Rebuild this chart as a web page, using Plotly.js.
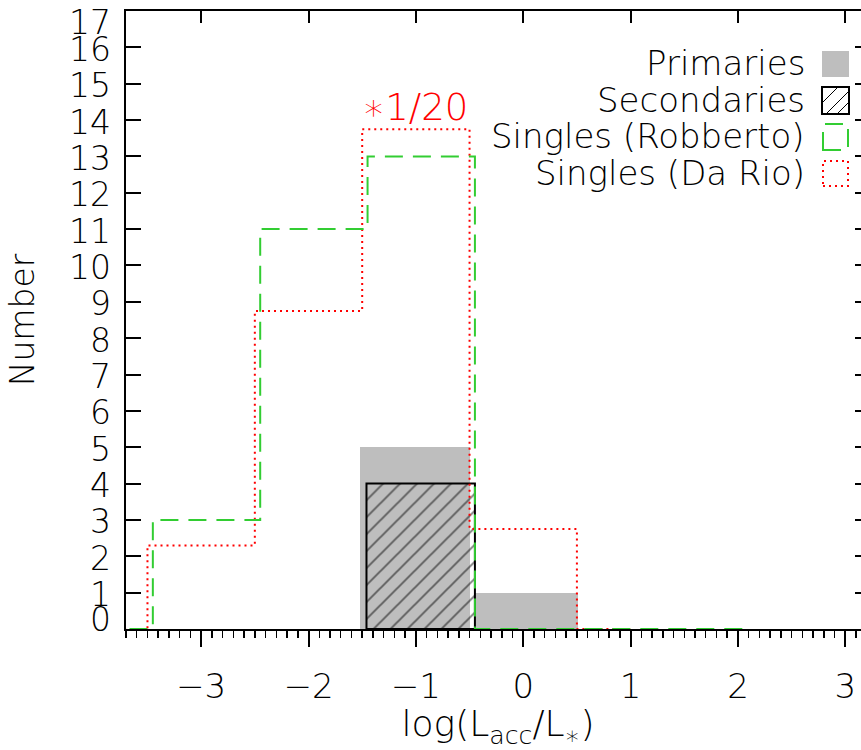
<!DOCTYPE html>
<html>
<head>
<meta charset="utf-8">
<script src="https://cdn.plot.ly/plotly-3.0.1.min.js"></script>
<style>
html, body { margin: 0; padding: 0; overflow: hidden; background: #fff; }
#chart { width: 880px; height: 750px; }
</style>
</head>
<body>
<div id="chart"></div>
<script>
// ---- data ----
const primLo = [-1.52, -0.45];
const primHi = [-0.50, 0.51];
const primN  = [5, 1];

const secLo = [-1.46];
const secHi = [-0.45];
const secN  = [4];

const robEdges  = [-4.45, -3.45, -2.45, -1.45, -0.45, 0.55, 1.55, 2.05];
const robCounts = [0, 3, 11, 13, 0, 0, 0];

const darioEdges  = [-4.5, -3.5, -2.5, -1.5, -0.5, 0.5, 1.0];
const darioCounts = [0, 2.3, 8.75, 13.75, 2.75, 0];   // already multiplied by 1/20

const yTickVals = [0,1,2,3,4,5,6,7,8,9,10,11,12,13,14,15,16,17];
const yTickText = yTickVals.map(String);
const xTickVals = [-3,-2,-1,0,1,2,3];

const legendNames = ["Primaries", "Secondaries", "Singles (Robberto)", "Singles (Da Rio)"];
const scaleNote = "\u22171/20";

// ---- helpers ----
const FONT = "DejaVu Sans, Liberation Sans, sans-serif";
const WT = 200;
const FS = 33;
const GREEN = "rgb(50,205,50)";
const RED = "rgb(255,0,0)";
const GRAY = "rgb(190,190,190)";

function centers(lo, hi) { return lo.map((v, i) => (v + hi[i]) / 2); }
function widths(lo, hi) { return lo.map((v, i) => hi[i] - v); }
function stepY(counts) { return counts.concat([counts[counts.length - 1]]); }

// plot area in pixels (layout)
const L = 126, R = 870, T = 11, B = 629;
const px = x => (x - L) / (R - L);
const py = y => (B - y) / (B - T);

const traces = [
  {
    type: "bar", x: centers(primLo, primHi), y: primN, width: widths(primLo, primHi), base: 0,
    marker: { color: GRAY, line: { width: 0 } }, hoverinfo: "skip", showlegend: false
  },
  {
    type: "bar", x: centers(secLo, secHi), y: secN, width: widths(secLo, secHi), base: 0,
    marker: {
      color: "rgba(0,0,0,0)", line: { color: "black", width: 2 },
      pattern: { shape: "/", fgcolor: "black", bgcolor: "rgba(0,0,0,0)", size: 12, solidity: 0.16, fillmode: "overlay" }
    },
    hoverinfo: "skip", showlegend: false
  },
  {
    type: "scatter", mode: "lines", x: darioEdges, y: stepY(darioCounts),
    line: { shape: "hv", color: RED, width: 2, dash: "2px,4px" }, hoverinfo: "skip", showlegend: false
  },
  {
    type: "scatter", mode: "lines", x: robEdges, y: stepY(robCounts),
    line: { shape: "hv", color: GREEN, width: 2, dash: "18px,10px" }, hoverinfo: "skip", showlegend: false
  },
  {
    type: "scatter", mode: "lines", x: [], y: [], xaxis: "x2", yaxis: "y2", hoverinfo: "skip", showlegend: false
  }
];

const annotations = [];
// y tick labels
yTickVals.forEach((v, i) => {
  let shift = -2;
  if (v === 0) shift = 10;
  if (v === 17) shift = -11;
  annotations.push({
    xref: "paper", yref: "y", x: -13 / (R - L), y: v, xanchor: "right", yanchor: "middle",
    text: yTickText[i], showarrow: false, yshift: shift,
    font: { family: FONT, weight: WT, size: FS, color: "black" }
  });
});
// scale note
annotations.push({
  xref: "x", yref: "y", x: -1.52, y: 14.35, xanchor: "left", yanchor: "middle",
  text: scaleNote, showarrow: false, font: { family: FONT, weight: WT, size: 37, color: RED }
});
// legend text
const legY = [63, 100, 136.5, 172.5];
legendNames.forEach((n, i) => {
  annotations.push({
    xref: "paper", yref: "paper", x: px(807), y: py(legY[i]), xanchor: "right", yanchor: "middle",
    text: n, showarrow: false, font: { family: FONT, weight: WT, size: 34, color: "black" }
  });
});

const shapes = [
  { type: "rect", xref: "paper", yref: "paper", x0: px(822), x1: px(849), y0: py(77), y1: py(51),
    fillcolor: GRAY, line: { width: 0 } },
  { type: "rect", xref: "paper", yref: "paper", x0: px(822), x1: px(849), y0: py(114), y1: py(87),
    fillcolor: "rgba(0,0,0,0)", line: { color: "black", width: 2 } },
  { type: "line", xref: "paper", yref: "paper", x0: px(823), y0: py(102), x1: px(838), y1: py(87),
    line: { color: "black", width: 1 } },
  { type: "line", xref: "paper", yref: "paper", x0: px(826), y0: py(114), x1: px(849), y1: py(91),
    line: { color: "black", width: 1 } },
  { type: "line", xref: "paper", yref: "paper", x0: px(837), y0: py(114), x1: px(849), y1: py(102),
    line: { color: "black", width: 1 } },
  { type: "rect", xref: "paper", yref: "paper", x0: px(823), x1: px(848), y0: py(150), y1: py(124),
    fillcolor: "rgba(0,0,0,0)", line: { color: GREEN, width: 2, dash: "18px,10px" } },
  { type: "rect", xref: "paper", yref: "paper", x0: px(823), x1: px(848), y0: py(186), y1: py(161),
    fillcolor: "rgba(0,0,0,0)", line: { color: RED, width: 2, dash: "2px,4px" } }
];

const xr = [-3.7, 3.23];
const yr = [0, 17];

const layout = {
  width: 880, height: 750,
  margin: { l: L, r: 880 - R, t: T, b: 750 - B, pad: 0 },
  paper_bgcolor: "white", plot_bgcolor: "white",
  barmode: "overlay", bargap: 0,
  font: { family: FONT, weight: WT, size: FS, color: "black" },
  xaxis: {
    range: xr, autorange: false, showgrid: false, zeroline: false,
    showline: true, linecolor: "black", linewidth: 2,
    tickmode: "array", tickvals: xTickVals,
    ticks: "outside", ticklen: 16, tickwidth: 2, tickcolor: "black",
    ticklabelstandoff: 10,
    minor: { tickmode: "linear", tick0: 0, dtick: 0.1, ticks: "outside", ticklen: 7, tickwidth: 1.5, tickcolor: "black", showgrid: false },
    tickfont: { family: FONT, weight: WT, size: 34, color: "black" },
    title: { text: "log(L<sub>acc</sub>/L<sub>\u2217</sub>)", font: { family: FONT, weight: WT, size: 36, color: "black" }, standoff: 14 },
    automargin: false, fixedrange: true
  },
  xaxis2: {
    overlaying: "x", side: "top", range: xr, autorange: false, showgrid: false, zeroline: false,
    showline: true, linecolor: "black", linewidth: 2,
    tickmode: "array", tickvals: xTickVals, ticks: "inside", ticklen: 12, tickwidth: 2, tickcolor: "black",
    showticklabels: false, automargin: false, fixedrange: true
  },
  yaxis: {
    range: yr, autorange: false, showgrid: false, zeroline: false,
    showline: true, linecolor: "black", linewidth: 2,
    tickmode: "array", tickvals: yTickVals, ticktext: yTickText, showticklabels: false,
    ticks: "inside", ticklen: 15, tickwidth: 2, tickcolor: "black",
    title: { text: "Number", font: { family: FONT, weight: WT, size: FS, color: "black" }, standoff: 79 },
    automargin: false, fixedrange: true
  },
  yaxis2: {
    overlaying: "y", side: "right", range: yr, autorange: false, showgrid: false, zeroline: false,
    showline: true, linecolor: "black", linewidth: 2,
    tickmode: "array", tickvals: yTickVals, ticks: "inside", ticklen: 15, tickwidth: 2, tickcolor: "black",
    showticklabels: false, automargin: false, fixedrange: true
  },
  annotations: annotations,
  shapes: shapes,
  showlegend: false
};

Plotly.newPlot("chart", traces, layout, { displayModeBar: false, staticPlot: true });
</script>
</body>
</html>
